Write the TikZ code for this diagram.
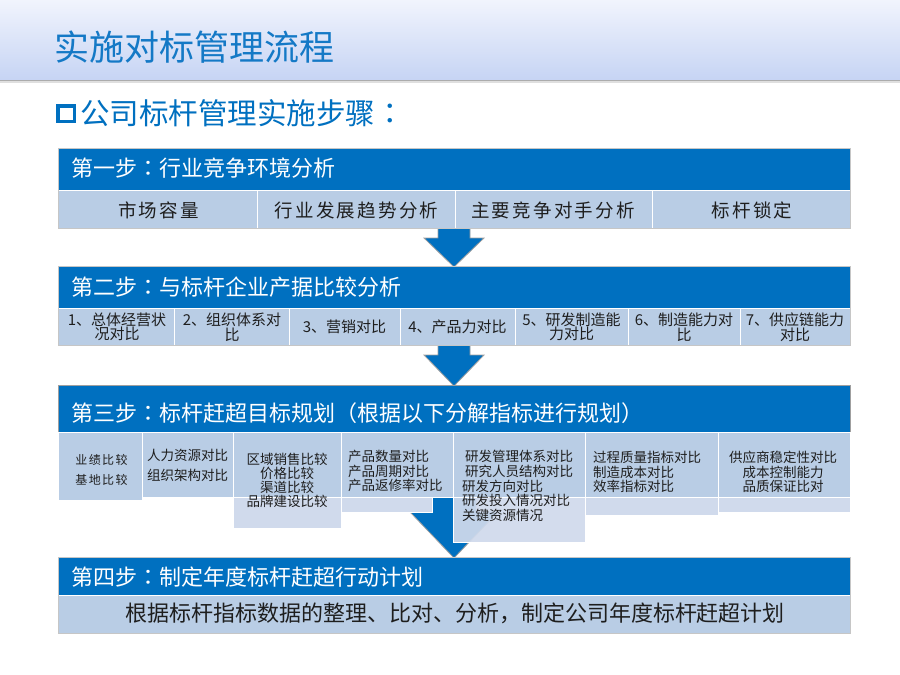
\documentclass[tikz,border=0pt]{standalone}
\usepackage{fontspec}
\newfontfamily\cjk{Noto Sans CJK SC}
\newfontfamily\cjktc{Noto Sans CJK TC}
\newfontfamily\cjkls[LetterSpace=12]{Noto Sans CJK SC}
\newcommand{\ccolon}{{\cjktc ：}}
\definecolor{hblue}{HTML}{0070C0}
\definecolor{titleblue}{HTML}{1479C6}
\definecolor{cellc}{HTML}{B9CDE5}
\definecolor{celll}{HTML}{D0DAEC}
\definecolor{txt}{HTML}{1E1E1E}
\definecolor{tbandA}{HTML}{F1F4FD}
\definecolor{tbandB}{HTML}{C6D4F4}
\begin{document}
\begin{tikzpicture}[x=1pt,y=-1pt,
  hdr/.style={fill=hblue, draw=gray!75, line width=0.8pt},
  cellbox/.style={fill=cellc, draw=white, line width=1pt},
  lightbox/.style={fill=celll, draw=white, line width=1pt},
  outl/.style={draw=gray!45, line width=0.6pt},
  htext/.style={font=\cjk\fontsize{22}{26}\selectfont, text=white, anchor=west, inner sep=0pt},
  ctext/.style={font=\cjk\fontsize{15}{14.5}\selectfont, text=txt, align=center, inner sep=0pt},
  kaitext/.style={font=\cjkls\fontsize{18.5}{20}\selectfont, text=txt, inner sep=0pt},
  stext/.style={font=\cjk\fontsize{13.5}{14.6}\selectfont, text=txt, inner sep=0pt},
  arrowc/.style={fill=hblue, draw=gray!75, line width=0.8pt, line join=miter},
]
\useasboundingbox (0,0) rectangle (900,675);
\fill[white] (0,0) rectangle (900,675);

% title band
\shade[top color=tbandA, bottom color=tbandB] (0,0) rectangle (900,80);
\fill[gray!25] (0,80) rectangle (900,83);
\draw[gray!65, line width=1pt] (0,80) -- (900,80);
\node[font=\cjk\fontsize{35}{38}\selectfont, text=titleblue, anchor=west, inner sep=0pt] (title) at (54,47) {实施对标管理流程};

% subtitle
\draw[hblue, line width=3.6pt] (58,106) rectangle (74.5,121.5);
\node[font=\cjk\fontsize{29.5}{32}\selectfont, text=hblue, anchor=west, inner sep=0pt] (sub) at (80,113) {公司标杆管理实施步骤\ccolon};

% arrows (drawn beneath the boxes)
\draw[arrowc] (438,226) -- (470,226) -- (470,238) -- (484,238) -- (454,267) -- (424,238) -- (438,238) -- cycle;
\draw[arrowc] (438,343) -- (470,343) -- (470,355) -- (484,355) -- (454,386) -- (424,355) -- (438,355) -- cycle;
\draw[arrowc] (432,430) -- (476,430) -- (476,512) -- (498,512) -- (454,558) -- (410,512) -- (432,512) -- cycle;

% ---------- step 1
\draw[hdr] (58,148) rectangle (850,190);
\draw[cellbox] (58,190) rectangle (257,228);
\draw[cellbox] (257,190) rectangle (455,228);
\draw[cellbox] (455,190) rectangle (652,228);
\draw[cellbox] (652,190) rectangle (850,228);
\draw[outl] (58,148) rectangle (850,228);
\node[htext] (s1) at (71,168) {第一步\ccolon 行业竞争环境分析};
\node[kaitext] (c11) at (158.5,210) {市场容量};
\node[kaitext] (c12) at (356.5,210) {行业发展趋势分析};
\node[kaitext] (c13) at (553,210) {主要竞争对手分析};
\node[kaitext] (c14) at (752,210) {标杆锁定};

% ---------- step 2
\draw[hdr] (58,266) rectangle (850,308);
\draw[cellbox] (58,308) rectangle (174,345);
\draw[cellbox] (174,308) rectangle (289,345);
\draw[cellbox] (289,308) rectangle (400,345);
\draw[cellbox] (400,308) rectangle (515,345);
\draw[cellbox] (515,308) rectangle (628,345);
\draw[cellbox] (628,308) rectangle (740,345);
\draw[cellbox] (740,308) rectangle (850,345);
\draw[outl] (58,266) rectangle (850,345);
\node[htext] (s2) at (71,287) {第二步\ccolon 与标杆企业产据比较分析};
\node[ctext] (c21) at (117,327) {1、总体经营状\\况对比};
\node[ctext] (c22) at (232,327) {2、组织体系对\\比};
\node[ctext] (c23) at (344.5,327) {3、营销对比};
\node[ctext] (c24) at (457.5,327) {4、产品力对比};
\node[ctext] (c25) at (571.5,327) {5、研发制造能\\力对比};
\node[ctext] (c26) at (684,327) {6、制造能力对\\比};
\node[ctext] (c27) at (795,327) {7、供应链能力\\对比};

% ---------- step 3
\draw[hdr] (58,385) rectangle (850,432);
\node[htext] (s3) at (71,413) {第三步\ccolon 标杆赶超目标规划（根据以下分解指标进行规划）};
\draw[cellbox] (58,432) rectangle (142,500);
\draw[cellbox] (142,432) rectangle (233,497);
\draw[lightbox] (233,432) rectangle (341,528);
\draw[cellbox] (233,432) rectangle (341,497);
\draw[lightbox] (341,432) rectangle (432,512);
\draw[cellbox] (341,432) rectangle (453,497);
\draw[lightbox, fill opacity=0.93] (453,432) rectangle (585,542);
\draw[cellbox] (453,432) rectangle (585,497);
\draw[lightbox] (585,432) rectangle (718,515);
\draw[cellbox] (585,432) rectangle (718,497);
\draw[lightbox] (718,432) rectangle (850,512);
\draw[cellbox] (718,432) rectangle (850,497);

\node[font=\cjkls\fontsize{12}{20}\selectfont, text=txt, align=center, inner sep=0pt] (c31) at (101.5,469.5) {业绩比较\\基地比较};
\node[stext, font=\cjk\fontsize{13.5}{20}\selectfont, align=left, anchor=west] (c32) at (147,465.5) {人力资源对比\\组织架构对比};
\node[stext, font=\cjk\fontsize{13.5}{14}\selectfont, align=center] (c33) at (287,480) {区域销售比较\\价格比较\\渠道比较\\品牌建设比较};
\node[stext, align=left, anchor=west] (c34) at (348,471) {产品数量对比\\产品周期对比\\产品返修率对比};
\node[stext, font=\cjk\fontsize{13.5}{14.8}\selectfont, align=left, anchor=west] (c35) at (462,486) {\hspace*{3pt}研发管理体系对比\\\hspace*{3pt}研究人员结构对比\\研发方向对比\\研发投入情况对比\\关键资源情况};
\node[stext, align=left, anchor=west] (c36) at (593,472) {过程质量指标对比\\制造成本对比\\效率指标对比};
\node[stext, align=center] (c37) at (783,472) {供应商稳定性对比\\成本控制能力\\品质保证比对};

% ---------- step 4
\draw[hdr] (58,557) rectangle (850,595);
\draw[cellbox] (58,595) rectangle (850,633);
\draw[outl] (58,557) rectangle (850,633);
\node[htext] (s4) at (71,577) {第四步\ccolon 制定年度标杆赶超行动计划};
\node[font=\cjk\fontsize{22}{26}\selectfont, text=txt, inner sep=0pt] (c41) at (455,613) {根据标杆指标数据的整理、比对、分析，制定公司年度标杆赶超计划};
\end{tikzpicture}
\end{document}
